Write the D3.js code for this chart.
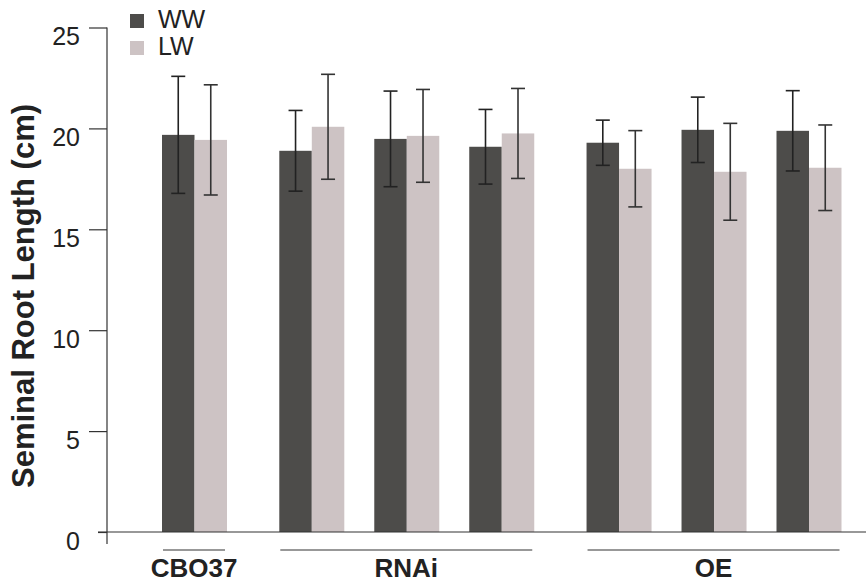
<!DOCTYPE html>
<html>
<head>
<meta charset="utf-8">
<script src="https://cdn.jsdelivr.net/npm/d3@7"></script>
<style>
  body { margin: 0; background: #fff; }
  svg { display: block; font-family: "Liberation Sans", Arial, sans-serif; }
</style>
</head>
<body>
<svg id="chart" width="866" height="582"></svg>
<script>
// groups and which group each line belongs to
const groupNames = ["CBO37", "RNAi", "OE"];
const lineGroup = [0, 1, 1, 1, 2, 2, 2];

// well watered
const wwMean = [19.68, 18.89, 19.48, 19.09, 19.29, 19.93, 19.88];
const wwErr = [2.9, 2.0, 2.37, 1.85, 1.12, 1.62, 1.99];
// limited water
const lwMean = [19.43, 20.08, 19.63, 19.75, 18.0, 17.85, 18.05];
const lwErr = [2.73, 2.6, 2.3, 2.23, 1.89, 2.4, 2.12];

const yTicks = [0, 5, 10, 15, 20, 25];
const seriesNames = ["WW", "LW"];
const colors = ["#4d4c4a", "#cdc3c4"];

const svg = d3.select("#chart");

const y = d3.scaleLinear().domain([0, 25]).range([532, 27.5]);

// extra spacing between groups
const groupGap = 0.235;
const pos = lineGroup.map((g, i) => i + g * groupGap);
const x = d3.scaleLinear().domain([0, d3.max(pos)]).range([194.5, 809]);
const barW = 32.5;

// y axis
const yAxis = svg.append("g")
    .attr("transform", "translate(107,0)")
    .call(d3.axisLeft(y).tickValues(yTicks).tickSize(18).tickPadding(9));
yAxis.select(".domain").remove();
yAxis.selectAll(".tick line").attr("stroke", "#333").attr("stroke-width", 1.2)
    .attr("x2", d => d === 0 ? -9 : -18);
yAxis.selectAll(".tick text")
    .attr("font-size", 25)
    .attr("font-family", "Liberation Sans, Arial, sans-serif")
    .attr("fill", "#222")
    .attr("dy", "0.68em");

svg.append("line")
    .attr("x1", 107).attr("x2", 107)
    .attr("y1", y(25)).attr("y2", y(0) + 12)
    .attr("stroke", "#333").attr("stroke-width", 1.2);

// bars
const series = [
  { name: "WW", mean: wwMean, err: wwErr, off: -barW },
  { name: "LW", mean: lwMean, err: lwErr, off: 0 }
];

series.forEach((s, si) => {
  const g = svg.append("g");
  g.selectAll("rect")
    .data(s.mean)
    .join("rect")
    .attr("x", (d, i) => x(pos[i]) + s.off)
    .attr("width", barW)
    .attr("y", d => y(d))
    .attr("height", d => y(0) - y(d))
    .attr("fill", colors[si]);
});

// x axis line (on top of bars)
svg.append("line")
    .attr("x1", 98).attr("x2", 866)
    .attr("y1", y(0)).attr("y2", y(0))
    .attr("stroke", "#333").attr("stroke-width", 1.2);

// error bars
series.forEach((s, si) => {
  const g = svg.append("g")
      .attr("stroke", si === 0 ? "#222" : "#333")
      .attr("stroke-width", 1.6);
  const cx = (i) => x(pos[i]) + s.off + barW / 2;
  g.selectAll(".v").data(s.mean).join("line")
    .attr("x1", (d, i) => cx(i)).attr("x2", (d, i) => cx(i))
    .attr("y1", (d, i) => y(d + s.err[i])).attr("y2", (d, i) => y(d - s.err[i]));
  [1, -1].forEach(sign => {
    g.selectAll(null).data(s.mean).join("line")
      .attr("x1", (d, i) => cx(i) - 7).attr("x2", (d, i) => cx(i) + 7)
      .attr("y1", (d, i) => y(d + sign * s.err[i]))
      .attr("y2", (d, i) => y(d + sign * s.err[i]));
  });
});

// group underlines and labels
groupNames.forEach((name, gi) => {
  const idx = lineGroup.map((g, i) => g === gi ? i : -1).filter(i => i >= 0);
  const x0 = x(pos[idx[0]]) - barW + 1;
  const x1 = x(pos[idx[idx.length - 1]]) + barW - 2;
  svg.append("line")
      .attr("x1", x0).attr("x2", x1)
      .attr("y1", 550).attr("y2", 550)
      .attr("stroke", "#333").attr("stroke-width", 1.2);
  svg.append("text")
      .attr("x", (x0 + x1) / 2)
      .attr("y", 577)
      .attr("text-anchor", "middle")
      .attr("font-size", 26)
      .attr("font-weight", "bold")
      .attr("fill", "#222")
      .text(name);
});

// y title
svg.append("text")
    .attr("transform", "translate(34,296) rotate(-90)")
    .attr("text-anchor", "middle")
    .attr("font-size", 31)
    .attr("font-weight", "bold")
    .attr("fill", "#222")
    .text("Seminal Root Length (cm)");

// legend
const legend = svg.append("g").attr("transform", "translate(130,14)");
seriesNames.forEach((n, i) => {
  legend.append("rect")
      .attr("x", 0).attr("y", i * 27)
      .attr("width", 14).attr("height", 14)
      .attr("fill", colors[i]);
  legend.append("text")
      .attr("x", 28).attr("y", i * 27 + 14)
      .attr("font-size", 25)
      .attr("fill", "#222")
      .text(n);
});
</script>
</body>
</html>
